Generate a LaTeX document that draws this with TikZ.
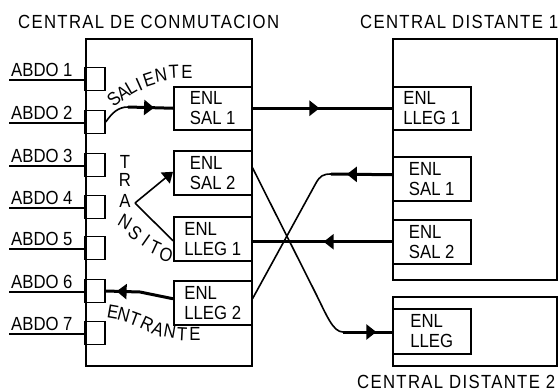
\documentclass[tikz,border=0pt]{standalone}
\usepackage{fontspec}
\setmainfont[FakeStretch=0.88]{Liberation Sans}
\newfontfamily\widefont[FakeStretch=0.88,LetterSpace=7]{Liberation Sans}
\usetikzlibrary{arrows.meta,decorations.markings}
\tikzset{
  every node/.style={inner sep=0pt, font=\fontsize{19}{20}\selectfont},
  frame/.style={draw, line width=1.5pt, anchor=north west},
  enl/.style={draw, line width=1.5pt, anchor=north west, minimum width=78pt, align=left},
  abox/.style={draw, line width=1.5pt, minimum width=20pt, minimum height=23pt},
  conn/.style={line width=1.6pt},
  boldconn/.style={line width=3pt},
  arrowmark/.style={postaction={decorate}, decoration={markings, mark=at position #1 with {\arrow{Triangle[length=10pt,width=15pt]}}}},
  title/.style={anchor=base west, font=\widefont\fontsize{19}{20}\selectfont},
  lbl/.style={anchor=base west},
}
\begin{document}
\begin{tikzpicture}[x=1pt,y=-1pt]
\useasboundingbox[fill=white] (0,0) rectangle (558,391);

% titles
\node[title] (t1) at (18,28) {CENTRAL DE CONMUTACION};
\node[title] (t2) at (360,28) {CENTRAL DISTANTE 1};
\node[title] (t3) at (357,388.5) {CENTRAL DISTANTE 2};

% main frames
\node[frame, minimum width=166pt, minimum height=327pt] (cc) at (85,38) {};
\node[frame, minimum width=164.3pt, minimum height=241pt] (d1) at (392,38) {};
\node[frame, minimum width=164.3pt, minimum height=69pt] (d2) at (392,296) {};

% ENL boxes
\node[enl, minimum height=43pt] (SALc1) at (173,86) {ENL\\SAL 1};
\node[enl, minimum height=44pt] (SALc2) at (173,150) {ENL\\SAL 2};
\node[enl, minimum height=44pt] (LLEGc1) at (173,216) {ENL\\LLEG 1};
\node[enl, minimum height=44pt] (LLEGc2) at (173,280) {ENL\\LLEG 2};
\node[enl, minimum height=43pt] (LLEGd1) at (392,86) {ENL\\LLEG 1};
\node[enl, minimum height=44pt] (SALd1) at (392,156) {ENL\\SAL 1};
\node[enl, minimum height=44pt] (SALd2) at (392,219) {ENL\\SAL 2};
\node[enl, minimum height=45pt] (LLEGd2) at (392,308) {ENL\\LLEG};

% subscribers
\foreach \i/\ly in {1/80,2/123,3/166,4/208,5/249,6/292,7/334}{
  \node[abox] (ab\i) at (95,\ly-1) {};
  \node[lbl] (lab\i) at (11,\ly-4) {ABDO \i};
  \coordinate (u\i) at (9,\ly);
  \draw[line width=1.5pt] (u\i) -- (u\i -| ab\i.west);
}

% SALIENTE
\coordinate (s1) at (128,107);
\draw[conn] (ab2.east) .. controls (112,113) and (118,107) .. (s1);
\draw[boldconn, arrowmark=0.58] (s1) -- (SALc1.west);
\draw[boldconn, arrowmark=0.48] (SALc1.east) -- (LLEGd1.west);

% TRANSITO
\coordinate (v) at (135,203);
\draw[conn] ([yshift=-2pt]LLEGc1.west) -- (v);
\draw[conn, -{Triangle[length=10pt,width=14pt]}] (v) -- ([yshift=1pt]SALc2.west);

% ENTRANTE
\coordinate (e1) at (140,292);
\draw[boldconn, arrowmark=0.84] ([yshift=4pt]LLEGc2.west) -- (e1) -- (ab6.east);

% remote trunks
\coordinate (k2) at (331,174);
\draw[boldconn, arrowmark=0.74] ([yshift=4pt]SALd1.west) -- (k2);
\draw[conn] (k2) .. controls (323,174) and (320,176) .. (316,183) -- ([yshift=4pt]LLEGc2.east);

\draw[boldconn, arrowmark=0.49] (SALd2.west) -- (SALd2.west -| LLEGc1.east);

\coordinate (k4) at (343,332);
\draw[conn] ([yshift=5pt]SALc2.east) -- (315,292) .. controls (327,316) and (333,332) .. (k4);
\draw[boldconn, arrowmark=0.68] (k4) -- (k4 -| LLEGd2.west);

% curved labels
\foreach \ch/\x/\y/\r [count=\n] in {S/114/99/40, A/123/93/35, L/131/88/30, I/139/85/24, E/149/80/18, N/161/75/10, T/174/72/3, E/187/72/0}
  \node[rotate=\r] (sl\n) at (\x,\y) {\ch};
\foreach \ch/\x/\y/\r [count=\n] in {T/125/162/0, R/125/180/0, A/125/201/0, N/125/222/-30, S/135/233/-40, I/146/240/-35, T/155/248/-25, O/166/255/-15}
  \node[rotate=\r] (tr\n) at (\x,\y) {\ch};
\foreach \ch/\x/\y/\r [count=\n] in {E/113/312/-10, N/124/315/-15, T/135/319/-20, R/147/324/-25, A/158/329/-20, N/170/331/-10, T/182/334/-3, E/195/334/0}
  \node[rotate=\r] (en\n) at (\x,\y) {\ch};
\end{tikzpicture}
\end{document}
